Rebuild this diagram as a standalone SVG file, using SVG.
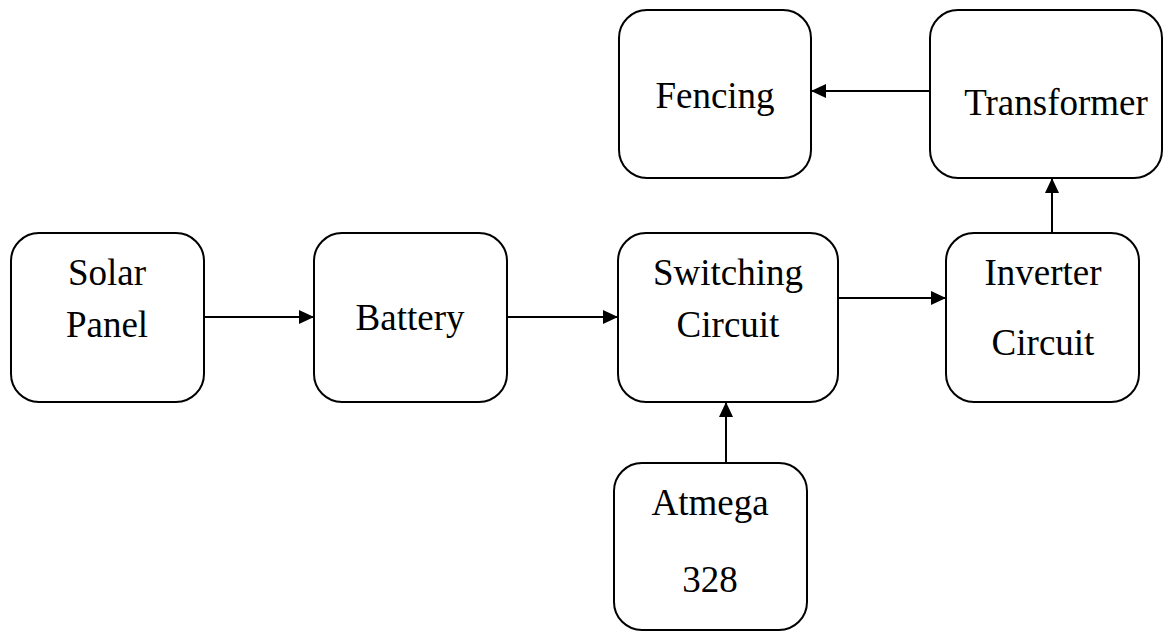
<svg xmlns="http://www.w3.org/2000/svg" width="1174" height="631" viewBox="0 0 1174 631">
<style>
.box{fill:#fff;stroke:#000;stroke-width:2}
.lbl{font-family:'Liberation Serif','Times New Roman','DejaVu Serif',serif;font-size:37px;fill:#000;text-anchor:middle}
.conn{stroke:#000;stroke-width:2;fill:none;marker-end:url(#arr)}
</style>
<defs>
<marker id="arr" markerUnits="userSpaceOnUse" markerWidth="18" markerHeight="18" viewBox="0 0 18 18" refX="16" refY="9" orient="auto">
<path d="M1,2 L16,9 L1,16 Z" fill="#000"/>
</marker>
</defs>
<rect width="1174" height="631" fill="#fff"/>
<g id="connectors">
<line class="conn" x1="204" y1="317" x2="314" y2="317"/>
<line class="conn" x1="507" y1="317" x2="618" y2="317"/>
<line class="conn" x1="838" y1="298" x2="946" y2="298"/>
<line class="conn" x1="1052" y1="233" x2="1052" y2="178"/>
<line class="conn" x1="930" y1="91" x2="811" y2="91"/>
<line class="conn" x1="726" y1="463" x2="726" y2="402"/>
</g>
<g id="solar-panel">
<rect class="box" x="11" y="233" width="193" height="169" rx="28"/>
<text class="lbl" font-family="Liberation Serif, serif" x="107" y="285">Solar</text>
<text class="lbl" font-family="Liberation Serif, serif" x="107" y="337">Panel</text>
</g>
<g id="battery">
<rect class="box" x="314" y="233" width="193" height="169" rx="28"/>
<text class="lbl" font-family="Liberation Serif, serif" x="410" y="330">Battery</text>
</g>
<g id="switching-circuit">
<rect class="box" x="618" y="233" width="220" height="169" rx="28"/>
<text class="lbl" font-family="Liberation Serif, serif" x="728" y="285">Switching</text>
<text class="lbl" font-family="Liberation Serif, serif" x="728" y="337">Circuit</text>
</g>
<g id="inverter-circuit">
<rect class="box" x="946" y="233" width="193" height="169" rx="28"/>
<text class="lbl" font-family="Liberation Serif, serif" x="1043" y="285">Inverter</text>
<text class="lbl" font-family="Liberation Serif, serif" x="1043" y="355">Circuit</text>
</g>
<g id="transformer">
<rect class="box" x="930" y="10" width="232" height="168" rx="28"/>
<text class="lbl" font-family="Liberation Serif, serif" x="1056" y="115">Transformer</text>
</g>
<g id="fencing">
<rect class="box" x="619" y="10" width="192" height="168" rx="28"/>
<text class="lbl" font-family="Liberation Serif, serif" x="715" y="108">Fencing</text>
</g>
<g id="atmega-328">
<rect class="box" x="614" y="463" width="193" height="167" rx="28"/>
<text class="lbl" font-family="Liberation Serif, serif" x="710" y="515">Atmega</text>
<text class="lbl" font-family="Liberation Serif, serif" x="710" y="592">328</text>
</g>
</svg>
